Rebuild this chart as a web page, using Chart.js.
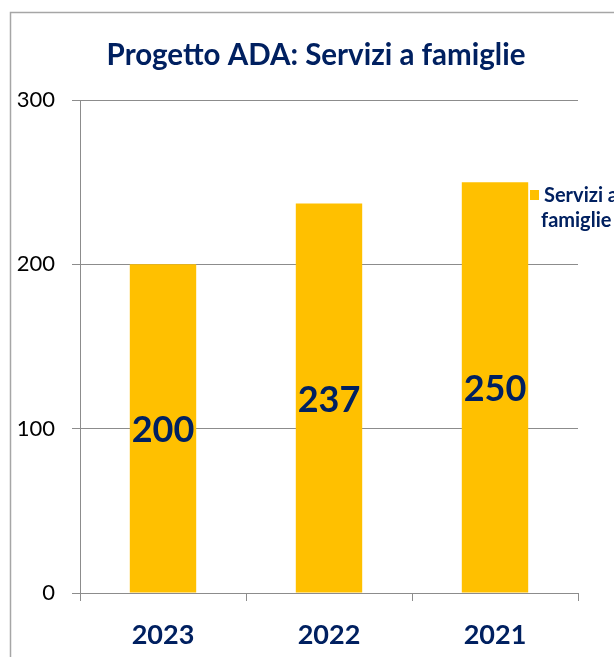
<!DOCTYPE html>
<html>
<head>
<meta charset="utf-8">
<script src="https://cdn.jsdelivr.net/npm/chart.js@4"></script>
<style>
  html, body { margin: 0; padding: 0; background: #fff; overflow: hidden; }
  #wrap { width: 632px; height: 657px; }
</style>
</head>
<body>
<div id="wrap"><canvas id="progettoAda" width="632" height="657"></canvas></div>
<script>
const years = ["2023", "2022", "2021"];
const servizi = [200, 237, 250];
const yTicks = [0, 100, 200, 300];
const seriesLabel = ["Servizi a", "famiglie"];

const navy = "#002060";
const gold = "#FFC000";
const gridGray = "#8c8c8c";

// frame, labels inside the bars and the legend on the right
const extras = {
  id: "extras",
  beforeDraw(chart) {
    const ctx = chart.ctx;
    ctx.save();
    ctx.strokeStyle = "#a6a6a6";
    ctx.lineWidth = 1.5;
    ctx.strokeRect(10.5, 12.5, 800, 800);
    ctx.restore();
  },
  afterDatasetsDraw(chart) {
    const ctx = chart.ctx;
    const meta = chart.getDatasetMeta(0);
    ctx.save();
    ctx.fillStyle = navy;
    ctx.font = "bold 36px Lato";
    ctx.textAlign = "center";
    ctx.textBaseline = "middle";
    meta.data.forEach((bar, i) => {
      ctx.fillText(String(servizi[i]), bar.x, (bar.y + bar.base) / 2 + 2);
    });

    const area = chart.chartArea;
    ctx.fillStyle = gold;
    ctx.fillRect(area.right - 48, 190, 9, 10);
    ctx.fillStyle = navy;
    ctx.font = "bold 20px Lato";
    ctx.textAlign = "left";
    ctx.fillText(seriesLabel[0], area.right - 34, 196);
    ctx.fillText(seriesLabel[1], area.right - 37, 221);
    ctx.restore();
  },
};

new Chart(document.getElementById("progettoAda").getContext("2d"), {
  type: "bar",
  data: {
    labels: years,
    datasets: [
      {
        label: seriesLabel.join(" "),
        data: servizi,
        backgroundColor: gold,
        categoryPercentage: 1,
        barPercentage: 0.4,
      },
    ],
  },
  options: {
    responsive: false,
    animation: false,
    layout: {
      padding: 0,
    },
    plugins: {
      legend: { display: false },
      tooltip: { enabled: false },
      title: {
        display: true,
        text: "Progetto ADA: Servizi a famiglie",
        color: navy,
        font: { family: "Lato", size: 29.5, weight: "bold", lineHeight: 1.2 },
        padding: { top: 38, bottom: 26.6 },
      },
    },
    scales: {
      x: {
        afterFit(scale) {
          scale.height = 64;
        },
        grid: {
          display: true,
          drawOnChartArea: false,
          drawTicks: true,
          tickLength: 8,
          color: gridGray,
        },
        border: { color: gridGray },
        ticks: {
          color: navy,
          font: { family: "Lato", size: 27, weight: "bold", lineHeight: 1.2 },
          padding: 18,
        },
      },
      y: {
        min: 0,
        max: 300,
        afterFit(scale) {
          scale.width = 80;
        },
        afterBuildTicks(scale) {
          scale.ticks = yTicks.map((v) => ({ value: v }));
        },
        grid: {
          color: gridGray,
          tickLength: 8,
        },
        border: { color: gridGray },
        ticks: {
          color: "#000",
          font: { family: "Lato", size: 22 },
          padding: 17,
        },
      },
      // empty strip on the right where the legend sits
      legendSpace: {
        type: "linear",
        position: "right",
        display: true,
        afterFit(scale) {
          scale.width = 54;
        },
        grid: { display: false },
        border: { display: false },
        ticks: { display: false },
      },
    },
  },
  plugins: [extras],
});
</script>
</body>
</html>
